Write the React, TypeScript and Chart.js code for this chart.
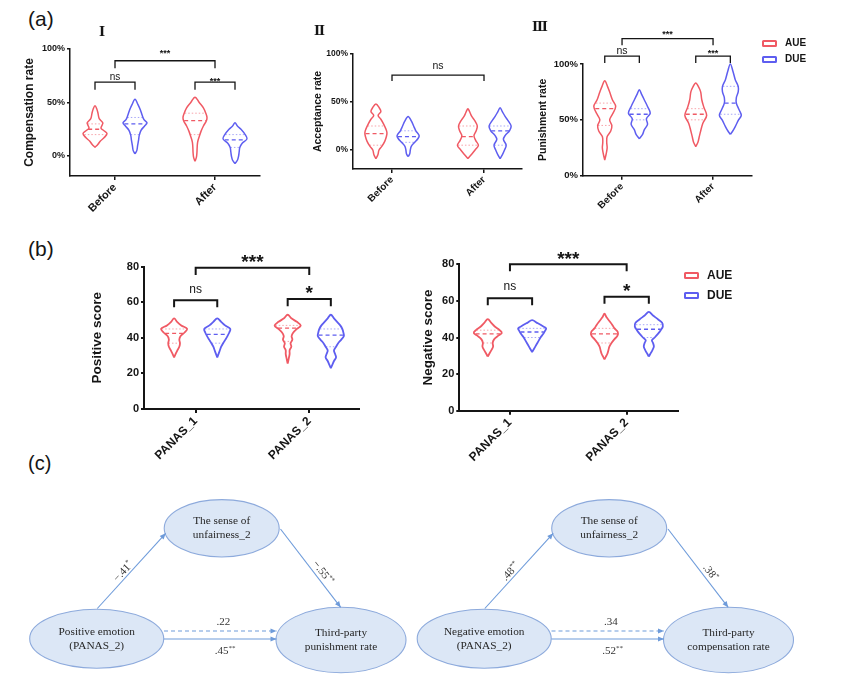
import React, { useEffect, useRef } from 'react';
import { Chart, registerables } from 'chart.js';

Chart.register(...registerables);

const SANS = 'Arial, "Liberation Sans", Helvetica, sans-serif';
const SERIF = '"Times New Roman", "Liberation Serif", serif';
const INK = '#151515';
const RED = '#F05A64';
const BLUE = '#5E5EF0';
const GROUP_COLORS = [RED, BLUE];
const GROUP_Q_COLORS = ['rgba(240,90,100,0.55)', 'rgba(94,94,240,0.55)'];
const NODE_FILL = '#DCE7F6';
const NODE_STROKE = '#8DAADC';
const ARROW = '#6E9BDA';

// ======================= DATA =======================
const groups = ['AUE', 'DUE'];
const phaseCategories = ['Before', 'After'];
const panasCategories = ['PANAS_1', 'PANAS_2'];
const percentTicks = [0, 50, 100];
const scoreTicks = [0, 20, 40, 60, 80];

// --- I: Compensation rate (%) : levels, relative density, [q1, median, q3]
const compBeforeAUE_levels = [8, 11, 14, 17, 21, 24, 26, 29, 31, 35, 40, 44, 47];
const compBeforeAUE_density = [0, 0.25, 0.45, 0.75, 1, 0.7, 0.5, 0.6, 0.65, 0.35, 0.25, 0.15, 0];
const compBeforeAUE_quart = [20, 25, 30];
const compBeforeDUE_levels = [2, 5, 10, 15, 19, 24, 28, 31, 34, 38, 43, 48, 53];
const compBeforeDUE_density = [0, 0.15, 0.22, 0.3, 0.35, 0.5, 0.8, 1, 0.75, 0.6, 0.45, 0.25, 0];
const compBeforeDUE_quart = [20, 30, 36];
const compAfterAUE_levels = [-5, -1, 3, 8, 13, 18, 23, 28, 33, 36, 40, 45, 50, 55];
const compAfterAUE_density = [0, 0.12, 0.16, 0.18, 0.22, 0.35, 0.5, 0.7, 0.95, 1, 0.9, 0.7, 0.35, 0];
const compAfterAUE_quart = [20, 33, 40];
const compAfterDUE_levels = [-7, -4, 0, 4, 8, 12, 16, 20, 25, 28, 31];
const compAfterDUE_density = [0, 0.2, 0.3, 0.35, 0.4, 0.6, 1, 0.85, 0.5, 0.2, 0];
const compAfterDUE_quart = [8, 15, 20];

// --- II: Acceptance rate (%)
const accBeforeAUE_levels = [-9, -5, 0, 4, 9, 14, 18, 22, 27, 32, 36, 40, 44, 48];
const accBeforeAUE_density = [0, 0.18, 0.28, 0.55, 0.8, 0.95, 1, 0.9, 0.7, 0.45, 0.2, 0.45, 0.3, 0];
const accBeforeAUE_quart = [5, 17, 25];
const accBeforeDUE_levels = [-7, -4, 0, 4, 8, 12, 15, 20, 25, 30, 35];
const accBeforeDUE_density = [0, 0.15, 0.2, 0.3, 0.6, 0.9, 1, 0.7, 0.5, 0.3, 0];
const accBeforeDUE_quart = [8, 14, 20];
const accAfterAUE_levels = [-9, -5, 0, 5, 10, 15, 20, 25, 30, 35, 40, 43];
const accAfterAUE_density = [0, 0.3, 0.65, 0.95, 0.7, 0.55, 0.75, 0.85, 0.65, 0.35, 0.15, 0];
const accAfterAUE_quart = [5, 14, 25];
const accAfterDUE_levels = [-9, -5, 0, 5, 11, 15, 20, 25, 30, 35, 40, 44];
const accAfterDUE_density = [0, 0.2, 0.4, 0.55, 0.3, 0.45, 0.85, 1, 0.75, 0.45, 0.2, 0];
const accAfterDUE_quart = [5, 20, 25];

// --- III: Punishment rate (%)
const punBeforeAUE_levels = [14, 20, 25, 30, 35, 40, 45, 50, 55, 62, 68, 75, 80, 85];
const punBeforeAUE_density = [0, 0.14, 0.22, 0.18, 0.22, 0.55, 0.65, 0.45, 0.7, 1, 0.7, 0.45, 0.25, 0];
const punBeforeAUE_quart = [45, 60, 65];
const punBeforeDUE_levels = [33, 37, 41, 46, 51, 56, 62, 68, 73, 77];
const punBeforeDUE_density = [0, 0.3, 0.45, 0.75, 0.65, 1, 0.75, 0.45, 0.2, 0];
const punBeforeDUE_quart = [50, 55, 60];
const punAfterAUE_levels = [26, 30, 34, 40, 47, 54, 61, 68, 75, 79, 83];
const punAfterAUE_density = [0, 0.2, 0.3, 0.45, 0.65, 1, 0.75, 0.55, 0.45, 0.28, 0];
const punAfterAUE_quart = [50, 55, 60];
const punAfterDUE_levels = [37, 40, 44, 50, 54, 59, 65, 70, 75, 80, 86, 93, 100];
const punAfterDUE_density = [0, 0.22, 0.45, 0.75, 1, 0.8, 0.55, 0.55, 0.72, 0.72, 0.45, 0.25, 0];
const punAfterDUE_quart = [55, 65, 80];

// --- (b) Positive score
const posP1AUE_levels = [29, 31, 33, 35, 37, 39, 41, 43, 45, 47, 49, 51];
const posP1AUE_density = [0, 0.12, 0.25, 0.4, 0.45, 0.4, 0.5, 0.8, 1, 0.55, 0.23, 0];
const posP1AUE_quart = [37, 42.5, 45];
const posP1DUE_levels = [29, 31, 33, 35, 37, 39, 41, 43, 45, 47, 49, 51];
const posP1DUE_density = [0, 0.1, 0.2, 0.3, 0.45, 0.62, 0.78, 0.92, 1, 0.6, 0.3, 0];
const posP1DUE_quart = [37, 42, 45];
const posP2AUE_levels = [25.5, 29, 31, 33, 35, 37, 39, 41, 43, 45, 47, 49, 51, 53];
const posP2AUE_density = [0, 0.1, 0.15, 0.15, 0.28, 0.22, 0.36, 0.3, 0.43, 0.7, 1, 0.7, 0.28, 0];
const posP2AUE_quart = [38, 45.5, 47];
const posP2DUE_levels = [23, 25, 27, 29, 31, 33, 35, 37, 39, 41, 43, 45, 47, 49, 51, 53];
const posP2DUE_density = [0, 0.12, 0.24, 0.4, 0.32, 0.24, 0.4, 0.56, 0.8, 1, 0.96, 0.88, 0.72, 0.48, 0.24, 0];
const posP2DUE_quart = [35, 41.5, 45];

// --- (b) Negative score
const negP1AUE_levels = [29.5, 31, 33, 35, 37, 39, 41, 42.5, 44, 46, 48, 50];
const negP1AUE_density = [0, 0.1, 0.25, 0.38, 0.35, 0.45, 0.75, 1, 0.85, 0.5, 0.25, 0];
const negP1AUE_quart = [37, 42, 44];
const negP1DUE_levels = [32, 34, 36, 38, 40, 42, 44, 45, 46, 48, 49.5];
const negP1DUE_density = [0, 0.15, 0.3, 0.45, 0.6, 0.8, 0.95, 1, 0.8, 0.35, 0];
const negP1DUE_quart = [40, 43, 45];
const negP2AUE_levels = [28, 29.5, 31, 33, 35, 37, 39, 41, 43, 45, 47, 49, 51, 53];
const negP2AUE_density = [0, 0.1, 0.2, 0.28, 0.35, 0.5, 0.7, 0.93, 0.95, 0.72, 0.55, 0.35, 0.15, 0];
const negP2AUE_quart = [37, 42, 45];
const negP2DUE_levels = [29.5, 31, 33, 35, 37, 38.5, 40, 42, 44, 46, 48, 50, 52, 54];
const negP2DUE_density = [0, 0.1, 0.25, 0.36, 0.3, 0.22, 0.42, 0.65, 0.85, 1, 0.95, 0.65, 0.3, 0];
const negP2DUE_quart = [40, 44.5, 47];

// significance brackets: [category, group] (group -1 = category centre), top value, label
const compBrackets = [
  { a: [0, 0], b: [0, 1], top: 69, label: 'ns' },
  { a: [1, 0], b: [1, 1], top: 69, label: '***' },
  { a: [0, -1], b: [1, -1], top: 89, label: '***' },
];
const accBrackets = [{ a: [0, -1], b: [1, -1], top: 78, label: 'ns' }];
const punBrackets = [
  { a: [0, 0], b: [0, 1], top: 107, label: 'ns' },
  { a: [1, 0], b: [1, 1], top: 107, label: '***' },
  { a: [0, -1], b: [1, -1], top: 122.7, label: '***' },
];
const posBrackets = [
  { a: [0, 0], b: [0, 1], top: 61.2, label: 'ns' },
  { a: [1, 0], b: [1, 1], top: 61.8, label: '*' },
  { a: [0, -1], b: [1, -1], top: 79.4, label: '***' },
];
const negBrackets = [
  { a: [0, 0], b: [0, 1], top: 61.4, label: 'ns' },
  { a: [1, 0], b: [1, 1], top: 62.3, label: '*' },
  { a: [0, -1], b: [1, -1], top: 80, label: '***' },
];

// (c) mediation models
const leftModelNodes = [['The sense of', 'unfairness_2'], ['Positive emotion', '(PANAS_2)'], ['Third-party', 'punishment rate']];
const leftModelCoefs = ['\u2212.41', '\u2212.55', '.22', '.45'];
const leftModelSig = ['*', '**', '', '**'];
const rightModelNodes = [['The sense of', 'unfairness_2'], ['Negative emotion', '(PANAS_2)'], ['Third-party', 'compensation rate']];
const rightModelCoefs = ['.48', '.38', '.34', '.52'];
const rightModelSig = ['**', '*', '', '**'];

// ======================= ASSEMBLY / LAYOUT =======================
type Violin = { cat: number; grp: number; levels: number[]; density: number[]; quart: number[] };
const mk = (cat: number, grp: number, levels: number[], density: number[], quart: number[]): Violin => ({ cat, grp, levels, density, quart });

const compViolins = [
  mk(0, 0, compBeforeAUE_levels, compBeforeAUE_density, compBeforeAUE_quart),
  mk(0, 1, compBeforeDUE_levels, compBeforeDUE_density, compBeforeDUE_quart),
  mk(1, 0, compAfterAUE_levels, compAfterAUE_density, compAfterAUE_quart),
  mk(1, 1, compAfterDUE_levels, compAfterDUE_density, compAfterDUE_quart),
];
const accViolins = [
  mk(0, 0, accBeforeAUE_levels, accBeforeAUE_density, accBeforeAUE_quart),
  mk(0, 1, accBeforeDUE_levels, accBeforeDUE_density, accBeforeDUE_quart),
  mk(1, 0, accAfterAUE_levels, accAfterAUE_density, accAfterAUE_quart),
  mk(1, 1, accAfterDUE_levels, accAfterDUE_density, accAfterDUE_quart),
];
const punViolins = [
  mk(0, 0, punBeforeAUE_levels, punBeforeAUE_density, punBeforeAUE_quart),
  mk(0, 1, punBeforeDUE_levels, punBeforeDUE_density, punBeforeDUE_quart),
  mk(1, 0, punAfterAUE_levels, punAfterAUE_density, punAfterAUE_quart),
  mk(1, 1, punAfterDUE_levels, punAfterDUE_density, punAfterDUE_quart),
];
const posViolins = [
  mk(0, 0, posP1AUE_levels, posP1AUE_density, posP1AUE_quart),
  mk(0, 1, posP1DUE_levels, posP1DUE_density, posP1DUE_quart),
  mk(1, 0, posP2AUE_levels, posP2AUE_density, posP2AUE_quart),
  mk(1, 1, posP2DUE_levels, posP2DUE_density, posP2DUE_quart),
];
const negViolins = [
  mk(0, 0, negP1AUE_levels, negP1AUE_density, negP1AUE_quart),
  mk(0, 1, negP1DUE_levels, negP1DUE_density, negP1DUE_quart),
  mk(1, 0, negP2AUE_levels, negP2AUE_density, negP2AUE_quart),
  mk(1, 1, negP2DUE_levels, negP2DUE_density, negP2DUE_quart),
];

const SPECS: any[] = [
  { box: [10, 38, 258, 180], area: [70, 49, 260, 176], xMin: 0.55, xMax: 2.45, yMin: -18.7, yMax: 100, yTicks: percentTicks, pct: true, cats: phaseCategories, violins: compViolins, brackets: compBrackets, gaps: [4.7, 3.5, 10], off: 0.2, halfW: 0.12, yTitle: 'Compensation rate', titleX: 30, titleSize: 12, tickSize: 9, xTickSize: 11, axisW: 1.5, leg: 7, nsSize: 10, starSize: 9, bracketW: 1.3, violinW: 1.5 },
  { box: [290, 38, 236, 180], area: [353, 54, 522, 169], xMin: 0.576, xMax: 2.413, yMin: -19.8, yMax: 100, yTicks: percentTicks, pct: true, cats: phaseCategories, violins: accViolins, brackets: accBrackets, gaps: [9], off: 0.175, halfW: 0.12, yTitle: 'Acceptance rate', titleX: 318, titleSize: 10.5, tickSize: 8.5, xTickSize: 10, axisW: 1.5, leg: 6, nsSize: 10.5, starSize: 9, bracketW: 1.3, violinW: 1.5 },
  { box: [528, 18, 232, 200], area: [583, 64, 752, 175.7], xMin: 0.571, xMax: 2.428, yMin: 0, yMax: 100, yTicks: percentTicks, pct: true, cats: phaseCategories, violins: punViolins, brackets: punBrackets, gaps: [5, 5, 6.5], off: 0.19, halfW: 0.12, yTitle: 'Punishment rate', titleX: 543, titleSize: 10.5, tickSize: 9.5, xTickSize: 10, axisW: 1.5, leg: 6, nsSize: 10.5, starSize: 9, bracketW: 1.3, violinW: 1.5 },
  { box: [78, 240, 292, 235], area: [144, 266.7, 359, 409], xMin: 0.545, xMax: 2.438, yMin: 0, yMax: 80, yTicks: scoreTicks, pct: false, cats: panasCategories, violins: posViolins, brackets: posBrackets, gaps: [10, 10.7, 11], off: 0.19, halfW: 0.115, yTitle: 'Positive score', titleX: 97, titleSize: 13.5, tickSize: 11, xTickSize: 12, axisW: 2, leg: 4, nsSize: 12, starSize: 19, bracketW: 2, violinW: 1.8 },
  { box: [400, 240, 290, 235], area: [459.3, 264.3, 678, 410.7], xMin: 0.566, xMax: 2.44, yMin: 0, yMax: 80, yTicks: scoreTicks, pct: false, cats: panasCategories, violins: negViolins, brackets: negBrackets, gaps: [11, 11, 10.3], off: 0.19, halfW: 0.12, yTitle: 'Negative score', titleX: 428.3, titleSize: 13.5, tickSize: 11, xTickSize: 12, axisW: 2, leg: 3.8, nsSize: 12, starSize: 19, bracketW: 2, violinW: 1.8 },
];

// diagram layout (page coordinates of left model; right model is shifted)
const DIAGRAM_BOX = [0, 476, 842, 210];
const MODEL_SHIFT = [0, 387.5];
const NODE_GEOM = [[221.7, 528.3, 57.5, 28.7], [96.7, 638.7, 67, 29.5], [341, 640, 65, 32.7]];
const PATHS = [
  { from: [97.3, 608.5], to: [165.7, 533.3], dashed: false },
  { from: [280.5, 529], to: [340.7, 607.3], dashed: false },
  { from: [164, 631], to: [276.5, 631], dashed: true },
  { from: [164, 639], to: [276.5, 639], dashed: false },
];
const COEF_POS = [[123.3, 571.7], [322.7, 572.7], [223.3, 621.7], [225, 651]];
const MODELS = [
  { nodes: leftModelNodes, coefs: leftModelCoefs, sig: leftModelSig },
  { nodes: rightModelNodes, coefs: rightModelCoefs, sig: rightModelSig },
];

function halfWidthAt(v: Violin, q: number) {
  const L = v.levels;
  for (let i = 0; i < L.length - 1; i++) {
    if (q >= L[i] && q <= L[i + 1]) {
      const t = (q - L[i]) / (L[i + 1] - L[i]);
      return v.density[i] + t * (v.density[i + 1] - v.density[i]);
    }
  }
  return 0;
}

function makeViolinChart(canvas: HTMLCanvasElement, s: any) {
  const [bx, by, bw, bh] = s.box;
  const [al, at, ar, ab] = s.area;
  const cx = (cat: number, grp: number) => cat + 1 + (grp < 0 ? 0 : grp === 0 ? -s.off : s.off);
  const datasets: any[] = [];
  s.violins.forEach((v: Violin) => {
    const c = cx(v.cat, v.grp);
    const right = v.levels.map((y, i) => ({ x: c + v.density[i] * s.halfW, y }));
    const left = v.levels.map((y, i) => ({ x: c - v.density[i] * s.halfW, y })).reverse().slice(1);
    datasets.push({ label: groups[v.grp], data: [...right, ...left], showLine: true, borderColor: GROUP_COLORS[v.grp], borderWidth: s.violinW, pointRadius: 0, pointHoverRadius: 0, tension: 0.35, fill: false, clip: false });
    v.quart.forEach((q, k) => {
      const w = halfWidthAt(v, q) * s.halfW * 0.95;
      datasets.push({ data: [{ x: c - w, y: q }, { x: c + w, y: q }], showLine: true, borderColor: k === 1 ? GROUP_COLORS[v.grp] : GROUP_Q_COLORS[v.grp], borderWidth: k === 1 ? 1.3 : 1, borderDash: k === 1 ? [4, 3] : [1.5, 2], pointRadius: 0, pointHoverRadius: 0, tension: 0, clip: false });
    });
  });
  s.brackets.forEach((b: any) => {
    const x1 = cx(b.a[0], b.a[1]);
    const x2 = cx(b.b[0], b.b[1]);
    datasets.push({ data: [{ x: x1, y: b.top - s.leg }, { x: x1, y: b.top }, { x: x2, y: b.top }, { x: x2, y: b.top - s.leg }], showLine: true, borderColor: INK, borderWidth: s.bracketW, pointRadius: 0, pointHoverRadius: 0, tension: 0, clip: false });
  });

  const labelPlugin = {
    id: 'bracketLabels',
    afterDatasetsDraw(chart: any) {
      const { ctx, scales } = chart;
      const xs = scales.x, ys = scales.y;
      ctx.save();
      s.brackets.forEach((b: any, i: number) => {
        const x1 = xs.getPixelForValue(cx(b.a[0], b.a[1]));
        const x2 = xs.getPixelForValue(cx(b.b[0], b.b[1]));
        const yp = ys.getPixelForValue(b.top);
        const stars = /^\*+$/.test(b.label);
        const fs = stars ? s.starSize : s.nsSize;
        ctx.font = `${stars ? 'bold ' : ''}${fs}px ${SANS}`;
        ctx.textAlign = 'center';
        ctx.textBaseline = 'alphabetic';
        ctx.fillStyle = INK;
        const center = yp - s.gaps[i];
        ctx.fillText(b.label, (x1 + x2) / 2, center + (stars ? 0.58 : 0.26) * fs);
      });
      ctx.restore();
    },
  };

  const tickFont = (size: number) => ({ family: SANS, size, weight: 'bold' as const });
  return new Chart(canvas, {
    type: 'scatter',
    data: { datasets },
    options: {
      animation: false,
      responsive: false,
      devicePixelRatio: 1,
      events: [],
      layout: { padding: { top: at - by, right: bx + bw - ar, left: 0, bottom: 0 } },
      plugins: { legend: { display: false }, tooltip: { enabled: false } },
      scales: {
        x: {
          type: 'linear',
          min: s.xMin,
          max: s.xMax,
          afterBuildTicks: (sc: any) => { sc.ticks = s.cats.map((_: string, i: number) => ({ value: i + 1 })); },
          afterFit: (sc: any) => { sc.height = by + bh - ab; sc.paddingLeft = 0; sc.paddingRight = 0; },
          ticks: { callback: (v: any) => s.cats[Math.round(Number(v)) - 1] ?? '', maxRotation: 45, minRotation: 45, autoSkip: false, font: tickFont(s.xTickSize), color: INK, padding: 1 },
          grid: { display: true, drawOnChartArea: false, drawTicks: true, tickLength: 4, color: INK, lineWidth: s.axisW },
          border: { display: true, color: INK, width: s.axisW },
        },
        y: {
          type: 'linear',
          min: s.yMin,
          max: s.yMax,
          afterBuildTicks: (sc: any) => { sc.ticks = s.yTicks.map((v: number) => ({ value: v })); },
          afterFit: (sc: any) => { sc.width = al - bx; sc.paddingTop = 0; sc.paddingBottom = 0; },
          ticks: { callback: (v: any) => (s.pct ? `${v}%` : `${v}`), font: tickFont(s.tickSize), color: INK, padding: 2 },
          grid: { display: true, drawOnChartArea: false, drawTicks: true, tickLength: 3, color: INK, lineWidth: s.axisW },
          border: { display: true, color: INK, width: s.axisW },
          title: { display: true, text: s.yTitle, color: INK, font: { family: SANS, size: s.titleSize, weight: 'bold' }, padding: { top: s.titleX - bx - s.titleSize * 0.6, bottom: 0 } },
        },
      },
    } as any,
    plugins: [labelPlugin],
  });
}

function makeDiagram(canvas: HTMLCanvasElement) {
  const datasets: any[] = [];
  MODELS.forEach((_, mi) => {
    const ox = MODEL_SHIFT[mi];
    PATHS.forEach((p) => {
      datasets.push({ data: [{ x: p.from[0] + ox, y: p.from[1] }, { x: p.to[0] + ox, y: p.to[1] }], showLine: true, borderColor: ARROW, borderWidth: 1.1, borderDash: p.dashed ? [4, 3] : [], pointRadius: 0, pointHoverRadius: 0, tension: 0, clip: false });
    });
  });
  const plugin = {
    id: 'diagram',
    beforeDatasetsDraw(chart: any) {
      const { ctx, scales } = chart;
      const X = (v: number) => scales.x.getPixelForValue(v);
      const Y = (v: number) => scales.y.getPixelForValue(v);
      ctx.save();
      MODELS.forEach((_, mi) => {
        NODE_GEOM.forEach(([ncx, ncy, rx, ry]) => {
          const px = X(ncx + MODEL_SHIFT[mi]);
          const py = Y(ncy);
          const prx = X(ncx + MODEL_SHIFT[mi] + rx) - px;
          const pry = Math.abs(Y(ncy + ry) - py);
          ctx.beginPath();
          ctx.ellipse(px, py, prx, pry, 0, 0, Math.PI * 2);
          ctx.fillStyle = NODE_FILL;
          ctx.fill();
          ctx.lineWidth = 1.1;
          ctx.strokeStyle = NODE_STROKE;
          ctx.stroke();
        });
      });
      ctx.restore();
    },
    afterDatasetsDraw(chart: any) {
      const { ctx, scales } = chart;
      const X = (v: number) => scales.x.getPixelForValue(v);
      const Y = (v: number) => scales.y.getPixelForValue(v);
      ctx.save();
      MODELS.forEach((m, mi) => {
        const ox = MODEL_SHIFT[mi];
        PATHS.forEach((p) => {
          const x1 = X(p.from[0] + ox), y1 = Y(p.from[1]);
          const x2 = X(p.to[0] + ox), y2 = Y(p.to[1]);
          const a = Math.atan2(y2 - y1, x2 - x1);
          ctx.beginPath();
          ctx.moveTo(x2, y2);
          ctx.lineTo(x2 - 6 * Math.cos(a) + 2.6 * Math.sin(a), y2 - 6 * Math.sin(a) - 2.6 * Math.cos(a));
          ctx.lineTo(x2 - 6 * Math.cos(a) - 2.6 * Math.sin(a), y2 - 6 * Math.sin(a) + 2.6 * Math.cos(a));
          ctx.closePath();
          ctx.fillStyle = ARROW;
          ctx.fill();
        });
        ctx.fillStyle = '#262626';
        ctx.font = `11.3px ${SERIF}`;
        ctx.textAlign = 'center';
        ctx.textBaseline = 'middle';
        m.nodes.forEach((lines, ni) => {
          const [ncx, ncy] = NODE_GEOM[ni];
          const px = X(ncx + ox), py = Y(ncy);
          ctx.fillText(lines[0], px, py - 7);
          ctx.fillText(lines[1], px, py + 7);
        });
        m.coefs.forEach((txt, ci) => {
          const p = PATHS[ci];
          const [lx, ly] = COEF_POS[ci];
          const px = X(lx + ox), py = Y(ly);
          const ang = ci < 2 ? Math.atan2(Y(p.to[1]) - Y(p.from[1]), X(p.to[0]) - X(p.from[0])) : 0;
          ctx.save();
          ctx.translate(px, py);
          ctx.rotate(ang);
          ctx.font = `11px ${SERIF}`;
          const w1 = ctx.measureText(txt).width;
          ctx.font = `7px ${SERIF}`;
          const sg = m.sig[ci];
          const w2 = sg ? ctx.measureText(sg).width : 0;
          const start = -(w1 + w2) / 2;
          ctx.textAlign = 'left';
          ctx.textBaseline = 'middle';
          ctx.fillStyle = '#333';
          ctx.font = `11px ${SERIF}`;
          ctx.fillText(txt, start, 0);
          if (sg) {
            ctx.font = `7px ${SERIF}`;
            ctx.fillText(sg, start + w1, -3);
          }
          ctx.restore();
        });
      });
      ctx.restore();
    },
  };
  return new Chart(canvas, {
    type: 'scatter',
    data: { datasets },
    options: {
      animation: false,
      responsive: false,
      devicePixelRatio: 1,
      events: [],
      layout: { padding: 0 },
      plugins: { legend: { display: false }, tooltip: { enabled: false } },
      scales: {
        x: { type: 'linear', display: false, min: DIAGRAM_BOX[0], max: DIAGRAM_BOX[0] + DIAGRAM_BOX[2] },
        y: { type: 'linear', display: false, min: DIAGRAM_BOX[1], max: DIAGRAM_BOX[1] + DIAGRAM_BOX[3], reverse: true },
      },
    } as any,
    plugins: [plugin],
  });
}

const abs = (left: number, top: number, extra: any = {}) => ({ position: 'absolute' as const, left, top, ...extra });

function LegendItem({ x, y, color, label, size, textTop }: any) {
  return (
    <>
      <div style={abs(x, y, { width: 11, height: 3, border: `2px solid ${color}`, borderRadius: 1.5, background: '#fff' })} />
      <div style={abs(x + 23, textTop, { fontSize: size, lineHeight: `${size}px`, fontWeight: 'bold', color: INK, whiteSpace: 'nowrap' })}>{label}</div>
    </>
  );
}

export default function App() {
  const refs = useRef<(HTMLCanvasElement | null)[]>([]);
  useEffect(() => {
    const charts: Chart[] = [];
    SPECS.forEach((s, i) => {
      const c = refs.current[i];
      if (c) charts.push(makeViolinChart(c, s));
    });
    const d = refs.current[SPECS.length];
    if (d) charts.push(makeDiagram(d));
    return () => charts.forEach((c) => c.destroy());
  }, []);

  const romanStyle = { fontFamily: '"DejaVu Serif", "Liberation Serif", serif', fontWeight: 'bold', fontSize: 13, lineHeight: '13px', color: INK };
  const panelStyle = (size: number) => ({ fontFamily: SANS, fontSize: size, lineHeight: `${size}px`, color: INK });

  return (
    <div style={{ position: 'absolute', left: 0, top: 0, width: 842, height: 686, background: '#fff', overflow: 'hidden', fontFamily: SANS }}>
      {SPECS.map((s, i) => (
        <canvas key={i} ref={(el) => { refs.current[i] = el; }} width={s.box[2]} height={s.box[3]} style={abs(s.box[0], s.box[1], { width: s.box[2], height: s.box[3] })} />
      ))}
      <canvas ref={(el) => { refs.current[SPECS.length] = el; }} width={DIAGRAM_BOX[2]} height={DIAGRAM_BOX[3]} style={abs(DIAGRAM_BOX[0], DIAGRAM_BOX[1], { width: DIAGRAM_BOX[2], height: DIAGRAM_BOX[3] })} />

      <div style={abs(28, 7.5, panelStyle(21))}>(a)</div>
      <div style={abs(28, 237.5, panelStyle(21))}>(b)</div>
      <div style={abs(28, 452.6, panelStyle(20))}>(c)</div>

      <div style={abs(99, 24.5, romanStyle)}>{'\u2160'}</div>
      <div style={abs(314, 23.5, romanStyle)}>{'\u2161'}</div>
      <div style={abs(532, 20.2, romanStyle)}>{'\u2162'}</div>

      <LegendItem x={762} y={40} color={RED} label={groups[0]} size={10} textTop={38.1} />
      <LegendItem x={762} y={56} color={BLUE} label={groups[1]} size={10} textTop={54.1} />
      <LegendItem x={684} y={272} color={RED} label={groups[0]} size={12} textTop={269.1} />
      <LegendItem x={684} y={292} color={BLUE} label={groups[1]} size={12} textTop={289.1} />
    </div>
  );
}
